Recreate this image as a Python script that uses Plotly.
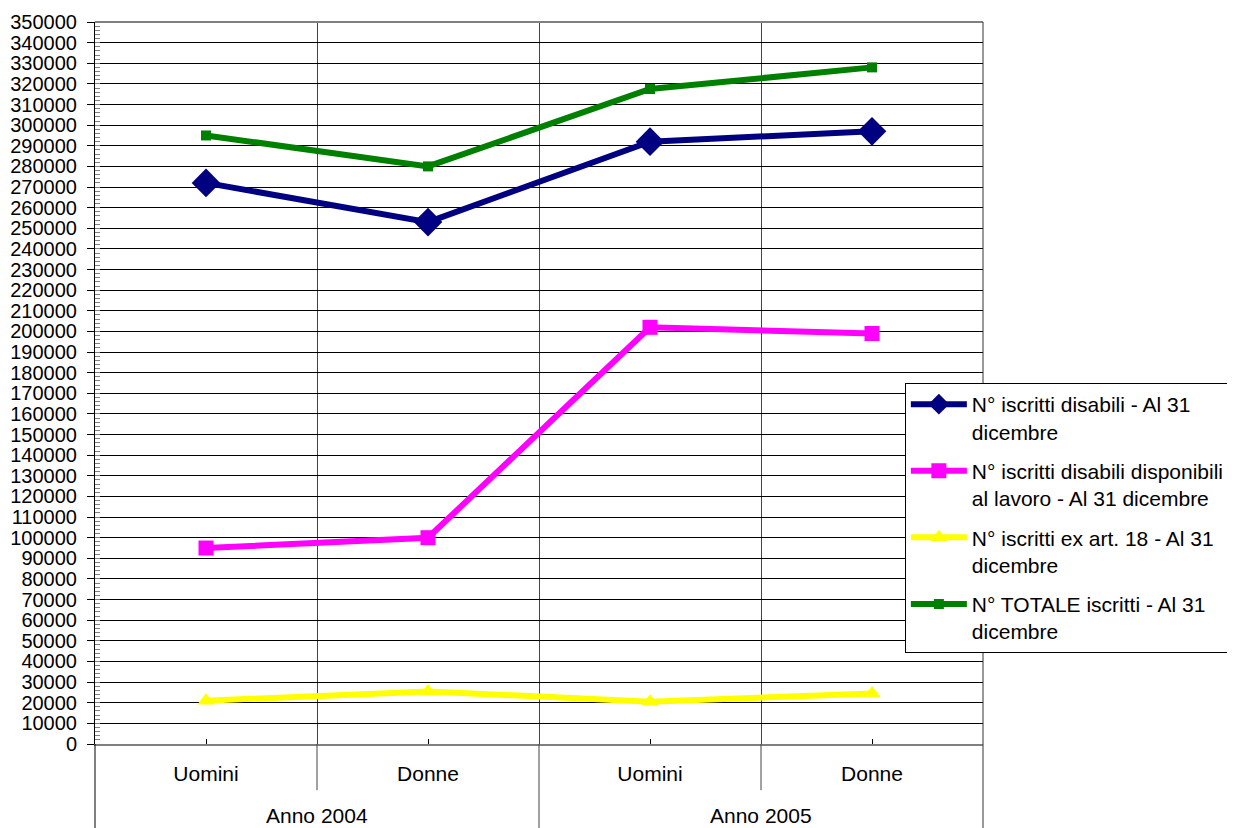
import plotly.graph_objects as go

categories = ["Uomini", "Donne", "Uomini", "Donne"]
years = ["Anno 2004", "Anno 2005"]
series_names = [
    "N° iscritti disabili - Al 31<br>dicembre",
    "N° iscritti disabili disponibili<br>al lavoro - Al 31 dicembre",
    "N° iscritti ex art. 18 - Al 31<br>dicembre",
    "N° TOTALE iscritti - Al 31<br>dicembre",
]
disabili = [272000, 253000, 292000, 297000]
disponibili = [95000, 100000, 202000, 199000]
ex_art18 = [21000, 25500, 20500, 24500]
totale = [295000, 280000, 317500, 328000]

y_ticks = list(range(0, 350001, 10000))

x = list(range(len(categories)))
FONT = "Liberation Sans, Arial, sans-serif"

styles = [
    dict(color="#000080", symbol="diamond", size=22),
    dict(color="#FF00FF", symbol="square", size=15),
    dict(color="#FFFF00", symbol="triangle-up", size=15),
    dict(color="#008000", symbol="square", size=10),
]
data = [disabili, disponibili, ex_art18, totale]

fig = go.Figure()
for i, (name, vals, st) in enumerate(zip(series_names, data, styles)):
    fig.add_trace(go.Scatter(
        x=x, y=vals, name=name, mode="lines+markers",
        line=dict(color=st["color"], width=6),
        marker=dict(color=st["color"], symbol=st["symbol"], size=st["size"]),
        legendgroup=f"g{i}",
    ))

fig.update_layout(
    width=1227, height=820,
    margin=dict(l=87, r=252, t=14, b=84, autoexpand=False),
    paper_bgcolor="white", plot_bgcolor="white",
    font=dict(family=FONT, size=21, color="black"),
    showlegend=True,
    legend=dict(
        x=0.912, y=0.5, xanchor="left", yanchor="top",
        bgcolor="white", bordercolor="black", borderwidth=1,
        font=dict(size=21, family=FONT), valign="top",
        tracegroupgap=9, itemwidth=56,
    ),
)

fig.update_yaxes(
    range=[0, 350000], tickvals=y_ticks, ticktext=[str(v) for v in y_ticks],
    showgrid=True, gridcolor="black", gridwidth=1,
    ticks="outside", ticklen=7, tickcolor="black",
    tickfont=dict(size=20, family=FONT), ticklabelstandoff=6,
    showline=True, linecolor="black", linewidth=1,
    minor=dict(dtick=2000, ticks="inside", ticklen=5, tickcolor="gray", showgrid=False),
    zeroline=False, automargin=False,
)
fig.update_xaxes(
    range=[-0.5, len(categories) - 0.5],
    tickvals=x, ticktext=categories,
    ticks="inside", ticklen=5, tickcolor="black",
    tickfont=dict(size=21, family=FONT), ticklabelstandoff=10,
    showgrid=False, showline=True, linecolor="gray", linewidth=2,
    minor=dict(tick0=0.5, dtick=1, showgrid=True, gridcolor="#444", gridwidth=1, ticks=""),
    zeroline=False, mirror=False, automargin=False,
)

# frame lines and category separators
fig.add_shape(type="line", xref="paper", yref="paper", x0=0, x1=1, y0=1, y1=1,
              line=dict(color="gray", width=2))
fig.add_shape(type="line", xref="paper", yref="paper", x0=1, x1=1, y0=1, y1=-0.13,
              line=dict(color="#333", width=1))
fig.add_shape(type="line", xref="paper", yref="paper", x0=0, x1=0, y0=0, y1=-0.13,
              line=dict(color="black", width=1))
for xv, ybot in [(0.5, -0.064), (1.5, -0.13), (2.5, -0.064)]:
    fig.add_shape(type="line", xref="x", yref="paper", x0=xv, x1=xv, y0=0, y1=ybot,
                  line=dict(color="#444", width=1))

for j, yr in enumerate(years):
    fig.add_annotation(x=2 * j + 0.5, y=-0.099, xref="x", yref="paper",
                       text=yr, showarrow=False, font=dict(size=21, family=FONT),
                       yanchor="middle")

fig.write_html("out.html")
